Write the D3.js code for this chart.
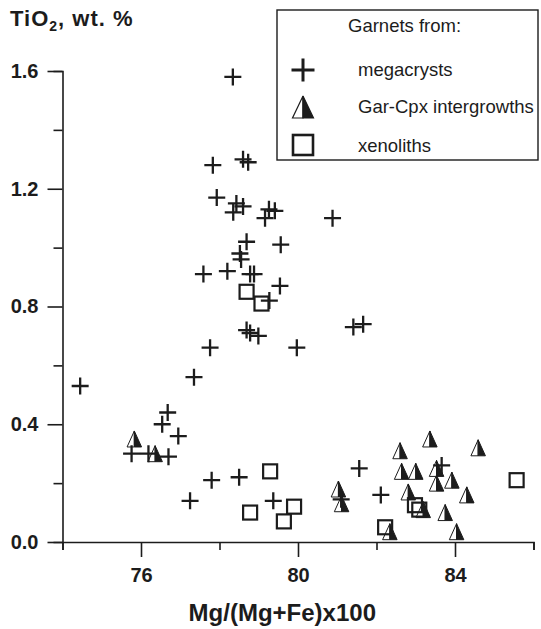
<!DOCTYPE html>
<html>
<head>
<meta charset="utf-8">
<script src="https://cdn.jsdelivr.net/npm/d3@7"></script>
<style>
  html, body { margin: 0; padding: 0; background: #fff; }
  svg { display: block; font-family: "Liberation Sans", Arial, Helvetica, sans-serif; }
</style>
</head>
<body>
<svg id="chart" width="541" height="629"></svg>
<script>
// Garnet TiO2 vs Mg-number, three sample groups
const xTicksMajor = [76, 80, 84];
const xTicksMinor = [74, 78, 82, 86];
const yTicksMajor = [0.0, 0.4, 0.8, 1.2, 1.6];
const yTicksMinor = [0.2, 0.6, 1.0, 1.4];

const legendTitle = "Garnets from:";
const seriesNames = ["megacrysts", "Gar-Cpx intergrowths", "xenoliths"];

// [Mg/(Mg+Fe)x100, TiO2 wt.%]
const megacrysts = [
  [74.45, 0.53], [78.34, 1.58], [77.83, 1.28], [78.60, 1.30], [78.73, 1.29],
  [77.93, 1.17], [78.43, 1.15], [78.60, 1.14], [78.35, 1.12], [79.26, 1.13],
  [79.41, 1.125], [79.16, 1.10], [80.88, 1.10], [78.69, 1.02], [79.56, 1.01],
  [78.52, 0.98], [78.55, 0.96], [77.59, 0.91], [78.20, 0.92], [78.78, 0.91],
  [78.88, 0.91], [79.54, 0.87], [79.27, 0.82], [78.69, 0.72], [78.78, 0.71],
  [78.99, 0.70], [77.76, 0.66], [79.97, 0.66], [77.35, 0.56], [81.41, 0.73],
  [81.66, 0.74], [76.68, 0.44], [76.54, 0.40], [76.95, 0.36], [75.76, 0.30],
  [76.19, 0.30], [76.70, 0.29], [77.80, 0.21], [77.25, 0.14], [78.50, 0.22],
  [79.37, 0.14], [81.56, 0.25], [81.10, 0.145], [82.11, 0.16], [83.66, 0.26]
];
const intergrowths = [
  [75.83, 0.35], [76.36, 0.30], [81.03, 0.18], [81.11, 0.13], [82.60, 0.31],
  [83.36, 0.35], [84.59, 0.32], [82.64, 0.24], [83.00, 0.24], [83.53, 0.25],
  [83.53, 0.20], [83.92, 0.21], [82.81, 0.17], [84.30, 0.16], [83.19, 0.11],
  [83.75, 0.10], [82.34, 0.035], [84.04, 0.035]
];
const xenoliths = [
  [78.69, 0.85], [79.07, 0.81], [79.29, 0.24], [78.78, 0.10], [79.90, 0.12],
  [79.64, 0.07], [82.98, 0.125], [83.09, 0.11], [82.22, 0.05], [85.57, 0.21]
];

const INK = "#1c1c1c";
const svg = d3.select("#chart");

const x = d3.scaleLinear().domain([74, 86]).range([62.5, 533.5]);
const y = d3.scaleLinear().domain([0, 1.6]).range([542, 71]);

// ---- axes ----
function styleAxis(g) {
  g.select(".domain").attr("stroke", INK).attr("stroke-width", 1.6);
  g.selectAll(".tick line").attr("stroke", INK).attr("stroke-width", 1.6);
  g.selectAll(".tick text")
    .attr("fill", INK)
    .attr("font-size", 20)
    .attr("font-weight", "bold");
}

svg.append("g")
  .attr("transform", `translate(0,${y(0)})`)
  .call(d3.axisBottom(x).tickValues(xTicksMinor).tickSize(8).tickFormat(""))
  .call(styleAxis);
svg.append("g")
  .attr("transform", `translate(0,${y(0)})`)
  .call(d3.axisBottom(x).tickValues(xTicksMajor).tickSize(15).tickPadding(11).tickFormat(d3.format("d")))
  .call(styleAxis)
  .call(g => g.select(".domain").remove());

svg.append("g")
  .attr("transform", `translate(${x(74)},0)`)
  .call(d3.axisLeft(y).tickValues(yTicksMinor).tickSize(9).tickFormat(""))
  .call(styleAxis);
svg.append("g")
  .attr("transform", `translate(${x(74)},0)`)
  .call(d3.axisLeft(y).tickValues(yTicksMajor).tickSize(15).tickPadding(9).tickFormat(d3.format(".1f")))
  .call(styleAxis)
  .call(g => g.select(".domain").remove());

// axis titles
svg.append("text")
  .attr("x", x(79.6)).attr("y", 621)
  .attr("text-anchor", "middle")
  .attr("font-size", 24).attr("font-weight", "bold").attr("fill", INK)
  .text("Mg/(Mg+Fe)x100");

const yt = svg.append("text")
  .attr("x", 10).attr("y", 26)
  .attr("font-size", 22).attr("font-weight", "bold").attr("fill", INK)
  .attr("letter-spacing", 1);
yt.append("tspan").text("TiO");
yt.append("tspan").attr("font-size", 14).attr("dy", 5).text("2");
yt.append("tspan").attr("dy", -5).text(", wt. %");

// ---- marker shapes ----
function drawPlus(g, s, sw) {
  g.append("path")
    .attr("d", `M${-s / 2},0H${s / 2}M0,${-s / 2}V${s / 2}`)
    .attr("stroke", INK).attr("stroke-width", sw).attr("fill", "none");
}
function drawTriangle(g, w, h, sw) {
  g.append("path")
    .attr("d", `M0,${-h / 2}L${-w / 2},${h / 2}H0Z`)
    .attr("fill", "#fff").attr("stroke", INK).attr("stroke-width", sw)
    .attr("stroke-linejoin", "miter");
  g.append("path")
    .attr("d", `M0,${-h / 2}L${w / 2},${h / 2}H0Z`)
    .attr("fill", INK).attr("stroke", INK).attr("stroke-width", sw)
    .attr("stroke-linejoin", "miter");
}
function drawSquare(g, s, sw) {
  g.append("rect")
    .attr("x", -s / 2).attr("y", -s / 2).attr("width", s).attr("height", s)
    .attr("fill", "none").attr("stroke", INK).attr("stroke-width", sw);
}

// ---- data marks ----
const plot = svg.append("g");
plot.append("g").selectAll("g").data(intergrowths).join("g")
  .attr("transform", d => `translate(${x(d[0])},${y(d[1])})`)
  .each(function () { drawTriangle(d3.select(this), 14.5, 16, 1); });
plot.append("g").selectAll("g").data(xenoliths).join("g")
  .attr("transform", d => `translate(${x(d[0])},${y(d[1])})`)
  .each(function () { drawSquare(d3.select(this), 14, 2.2); });
plot.append("g").selectAll("g").data(megacrysts).join("g")
  .attr("transform", d => `translate(${x(d[0])},${y(d[1])})`)
  .each(function () { drawPlus(d3.select(this), 17, 2.3); });

// ---- legend ----
const lg = svg.append("g");
lg.append("rect")
  .attr("x", 277).attr("y", 10).attr("width", 261).attr("height", 150)
  .attr("fill", "#fff").attr("stroke", INK).attr("stroke-width", 1.4);
lg.append("text")
  .attr("x", 348).attr("y", 32)
  .attr("font-size", 18.5).attr("fill", INK)
  .text(legendTitle);

const legendRows = [70, 107, 145];
const legendTextY = [76, 113, 152];
[0, 1, 2].forEach(i => {
  const m = lg.append("g").attr("transform", `translate(303,${legendRows[i]})`);
  if (i === 0) drawPlus(m, 23, 3);
  if (i === 1) drawTriangle(m, 21, 22, 1.2);
  if (i === 2) drawSquare(m, 20, 2.6);
  lg.append("text")
    .attr("x", 358).attr("y", legendTextY[i])
    .attr("font-size", 18.5).attr("fill", INK)
    .text(seriesNames[i]);
});
</script>
</body>
</html>
